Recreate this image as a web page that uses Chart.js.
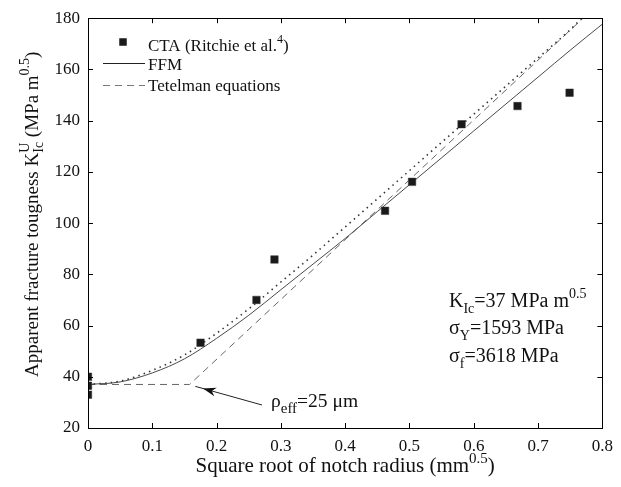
<!DOCTYPE html>
<html><head><meta charset="utf-8">
<script src="https://cdn.jsdelivr.net/npm/chart.js@4/dist/chart.umd.min.js"></script>
<style>html,body{margin:0;padding:0;background:#fff}</style>
</head><body>
<canvas id="c" width="621" height="487"></canvas>
<script>
// ---- data ----
const ctaX = [0, 0, 0, 0.175, 0.262, 0.290, 0.462, 0.504, 0.581, 0.668, 0.749];
const ctaY = [40, 36.5, 33, 53.3, 70, 85.8, 104.8, 116.1, 138.6, 145.7, 150.9];
const ffmX = [0, 0.05, 0.1, 0.15, 0.2, 0.25, 0.3, 0.35, 0.4, 0.45, 0.5, 0.55, 0.6, 0.65, 0.7, 0.75, 0.8];
const ffmY = [37, 38, 41.5, 47, 55, 64, 74, 84, 94, 104.5, 115, 125.5, 136, 146.5, 157, 167.5, 177.7];
const dotX = [0, 0.05, 0.1, 0.15, 0.2, 0.25, 0.3, 0.35, 0.4, 0.45, 0.5, 0.55, 0.6, 0.65, 0.7, 0.75, 0.768];
const dotY = [37, 38.3, 42.5, 48.5, 57, 66.5, 77, 87.5, 98.5, 109.5, 120.5, 131.5, 142.5, 153.5, 164.5, 175.5, 180];
const tetX = [0, 0.158, 0.77];
const tetY = [37, 37, 180];
const xTicks = [0, 0.1, 0.2, 0.3, 0.4, 0.5, 0.6, 0.7, 0.8];
const xTickLabels = ['0', '0.1', '0.2', '0.3', '0.4', '0.5', '0.6', '0.7', '0.8'];
const yTicks = [20, 40, 60, 80, 100, 120, 140, 160, 180];
const yTickLabels = ['20', '40', '60', '80', '100', '120', '140', '160', '180'];

const FONT = '"Liberation Serif", "Times New Roman", serif';
const pts = (xs, ys) => xs.map((x, i) => ({x: x, y: ys[i]}));

function richWidth(ctx, parts, size, ratio) {
  const small = Math.round(size * (ratio || 0.72));
  let w = 0;
  for (const p of parts) {
    if (p.n !== undefined) { ctx.font = size + 'px ' + FONT; w += ctx.measureText(p.n).width; }
    else {
      ctx.font = small + 'px ' + FONT;
      let m = 0;
      if (p.sup) m = Math.max(m, ctx.measureText(p.sup).width);
      if (p.sub) m = Math.max(m, ctx.measureText(p.sub).width);
      w += m;
    }
  }
  return w;
}
function drawRich(ctx, x, y, parts, size, ratio) {
  const small = Math.round(size * (ratio || 0.72));
  let cx = x;
  ctx.textAlign = 'left';
  ctx.textBaseline = 'alphabetic';
  for (const p of parts) {
    if (p.n !== undefined) {
      ctx.font = size + 'px ' + FONT;
      ctx.fillText(p.n, cx, y);
      cx += ctx.measureText(p.n).width;
    } else {
      ctx.font = small + 'px ' + FONT;
      let m = 0;
      if (p.sup) { ctx.fillText(p.sup, cx, y - size * 0.45); m = Math.max(m, ctx.measureText(p.sup).width); }
      if (p.sub) { ctx.fillText(p.sub, cx, y + size * 0.3); m = Math.max(m, ctx.measureText(p.sub).width); }
      cx += m;
    }
  }
  return cx - x;
}

const decor = {
  id: 'decor',
  afterDraw(chart) {
    const ctx = chart.ctx;
    const a = chart.chartArea;
    const xs = chart.scales.x, ys = chart.scales.y;
    ctx.save();
    // frame
    ctx.strokeStyle = '#000';
    ctx.lineWidth = 1;
    ctx.strokeRect(Math.round(a.left) + 0.5, Math.round(a.top) + 0.5, Math.round(a.right - a.left), Math.round(a.bottom - a.top));
    // inward ticks
    const tl = 5;
    ctx.beginPath();
    xTicks.forEach(v => {
      const px = Math.round(xs.getPixelForValue(v)) + 0.5;
      ctx.moveTo(px, a.bottom); ctx.lineTo(px, a.bottom - tl);
      ctx.moveTo(px, a.top); ctx.lineTo(px, a.top + tl);
    });
    yTicks.forEach(v => {
      const py = Math.round(ys.getPixelForValue(v)) + 0.5;
      ctx.moveTo(a.left, py); ctx.lineTo(a.left + tl, py);
      ctx.moveTo(a.right, py); ctx.lineTo(a.right - tl, py);
    });
    ctx.stroke();

    ctx.fillStyle = '#111';
    // x title
    const xt = [{n: 'Square root of notch radius (mm'}, {sup: '0.5'}, {n: ')'}];
    const xw = richWidth(ctx, xt, 21);
    drawRich(ctx, (a.left + a.right) / 2 - xw / 2, 472, xt, 21);
    // y title
    ctx.save();
    ctx.translate(37.5, 377);
    ctx.rotate(-Math.PI / 2);
    drawRich(ctx, 0, 0, [{n: 'Apparent fracture tougness K'}, {sup: 'U', sub: 'Ic'}, {n: ' (MPa m'}, {sup: '0.5'}, {n: ')'}], 19);
    ctx.restore();

    // legend
    ctx.fillStyle = '#1a1a1a';
    ctx.fillRect(123 - 3.75, 42 - 3.75, 7.5, 7.5);
    ctx.strokeStyle = '#222';
    ctx.lineWidth = 1;
    ctx.beginPath(); ctx.moveTo(103, 63.5); ctx.lineTo(145, 63.5); ctx.stroke();
    ctx.strokeStyle = '#777';
    ctx.setLineDash([7, 5]);
    ctx.beginPath(); ctx.moveTo(103, 85.5); ctx.lineTo(145, 85.5); ctx.stroke();
    ctx.setLineDash([]);
    ctx.fillStyle = '#111';
    drawRich(ctx, 148, 51, [{n: 'CTA (Ritchie et al.'}, {sup: '4'}, {n: ')'}], 17);
    drawRich(ctx, 148, 70, [{n: 'FFM'}], 17);
    drawRich(ctx, 148, 91, [{n: 'Tetelman equations'}], 17);

    // parameter annotation
    drawRich(ctx, 449, 307, [{n: 'K'}, {sub: 'Ic'}, {n: '=37 MPa m'}, {sup: '0.5'}], 20);
    drawRich(ctx, 449, 334, [{n: 'σ'}, {sub: 'Y'}, {n: '=1593 MPa'}], 20);
    drawRich(ctx, 449, 361.5, [{n: 'σ'}, {sub: 'f'}, {n: '=3618 MPa'}], 20);

    // rho_eff annotation
    drawRich(ctx, 271, 407, [{n: 'ρ'}, {sub: 'eff'}, {n: '=25 μm'}], 19.5, 0.76);
    // arrow
    const x1 = 262, y1 = 405, x2 = 203, y2 = 388.5;
    const ang = Math.atan2(y2 - y1, x2 - x1);
    ctx.strokeStyle = '#222';
    ctx.lineWidth = 1;
    ctx.beginPath(); ctx.moveTo(x1, y1); ctx.lineTo(x2 + 8 * Math.cos(ang), y2 + 8 * Math.sin(ang)); ctx.stroke();
    ctx.fillStyle = '#111';
    const L = 13, W = 4.5;
    const bx = x2 - L * Math.cos(ang), by = y2 - L * Math.sin(ang);
    const mx = x2 - L * 0.7 * Math.cos(ang), my = y2 - L * 0.7 * Math.sin(ang);
    ctx.beginPath();
    ctx.moveTo(x2, y2);
    ctx.lineTo(bx + W * Math.sin(ang), by - W * Math.cos(ang));
    ctx.lineTo(mx, my);
    ctx.lineTo(bx - W * Math.sin(ang), by + W * Math.cos(ang));
    ctx.closePath();
    ctx.fill();
    ctx.restore();
  }
};

new Chart(document.getElementById('c'), {
  type: 'scatter',
  data: {
    datasets: [
      {label: 'CTA (Ritchie et al.4)', data: pts(ctaX, ctaY), showLine: false, pointStyle: 'rect', pointRadius: 5.3, pointHoverRadius: 5.3, backgroundColor: '#1a1a1a', borderColor: '#333', borderWidth: 0.5},
      {label: 'FFM', data: pts(ffmX, ffmY), showLine: true, pointRadius: 0, borderColor: '#4a4a4a', borderWidth: 1, cubicInterpolationMode: 'monotone'},
      {label: 'FFM (dotted)', data: pts(dotX, dotY), showLine: true, pointRadius: 0, borderColor: '#333', borderWidth: 1.6, borderDash: [1.5, 4.2], cubicInterpolationMode: 'monotone'},
      {label: 'Tetelman equations', data: pts(tetX, tetY), showLine: true, pointRadius: 0, borderColor: '#666', borderWidth: 1, borderDash: [7, 5], tension: 0}
    ]
  },
  options: {
    responsive: false,
    animation: false,
    devicePixelRatio: 1,
    layout: {padding: {top: 18, right: 17, left: 0, bottom: 0}},
    plugins: {legend: {display: false}, tooltip: {enabled: false}},
    scales: {
      x: {
        type: 'linear', min: 0, max: 0.8,
        afterFit: s => { s.height = 59; },
        afterBuildTicks: s => { s.ticks = xTicks.map(v => ({value: v})); },
        grid: {display: false, drawTicks: false},
        border: {display: false},
        ticks: {padding: 8, color: '#111', font: {family: FONT, size: 17}, maxRotation: 0,
          callback: (v) => { const i = xTicks.findIndex(t => Math.abs(t - v) < 1e-9); return i >= 0 ? xTickLabels[i] : ''; }}
      },
      y: {
        type: 'linear', min: 20, max: 180,
        afterFit: s => { s.width = 88; },
        afterBuildTicks: s => { s.ticks = yTicks.map(v => ({value: v})); },
        grid: {display: false, drawTicks: false},
        border: {display: false},
        ticks: {padding: 8, color: '#111', font: {family: FONT, size: 17},
          callback: (v) => { const i = yTicks.indexOf(v); return i >= 0 ? yTickLabels[i] : ''; }}
      }
    }
  },
  plugins: [decor]
});
</script>
</body></html>
